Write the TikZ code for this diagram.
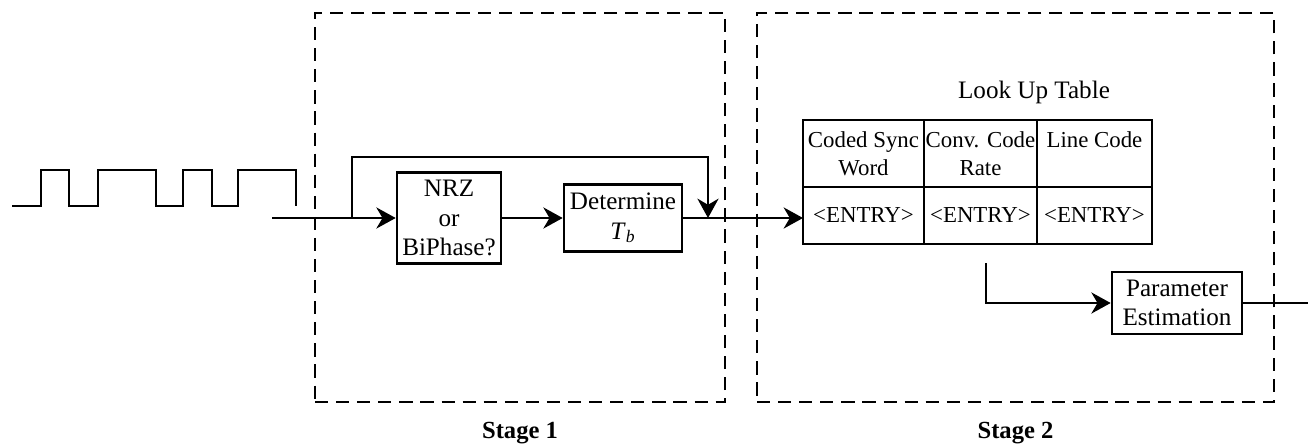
\documentclass[tikz,border=0pt]{standalone}
\usepackage{fontspec}
\setmainfont{Liberation Serif}
\usetikzlibrary{arrows.meta, positioning}

\begin{document}
\begin{tikzpicture}[x=0.02cm, y=-0.02cm, >={Stealth[length=11pt,width=12pt,inset=3.5pt]},
 line width=1.5pt, font=\fontsize{14.3}{16.8}\selectfont,
 block/.style={draw, align=center, inner sep=1pt},
 cell/.style={draw, align=center, inner sep=0pt, outer sep=0pt, font=\fontsize{13}{16}\selectfont},
 head/.style={cell, minimum height=1.34cm},
 entry/.style={cell, minimum height=1.14cm},
 stagebox/.style={draw, dash pattern=on 7.5pt off 4.5pt, minimum height=7.78cm},
 stagelbl/.style={font=\fontsize{14}{16.5}\selectfont\bfseries, inner sep=0pt}]
  \useasboundingbox (0,0) rectangle (1308,443);

  % stage frames
  \node[stagebox, minimum width=8.2cm] (st1) at (520,207.5) {};
  \node[stagebox, minimum width=10.34cm] (st2) at (1015.5,207.5) {};
  \node[stagelbl, below=0.36cm of st1] (st1lbl) {Stage 1};
  \node[stagelbl, below=0.36cm of st2] (st2lbl) {Stage 2};

  % input signal
  \draw (12,206) -| (41,170) -| (69,206) -| (98,170) -| (156,206) -| (183,170)
    -| (212,206) -| (238,170) -| (296,206);

  % stage 1
  \node[block, minimum width=2.08cm, minimum height=1.82cm] (nrz) at (449,218) {NRZ\\or\\BiPhase?};
  \node[block, minimum width=2.36cm, minimum height=1.34cm] (tb) at (623,218) {Determine\\\textit{T}\textsubscript{\textit{b}}};

  \coordinate (in) at (272,218);
  \coordinate (split) at (352,218);
  \coordinate (top) at (708,157);
  \coordinate (join) at (708,218);

  % stage 2: look up table
  \node[head, minimum width=2.42cm, anchor=north west] (h1) at (803,120) {Coded Sync\\Word};
  \node[head, minimum width=2.26cm, right=0pt of h1] (h2) {Conv. Code\\Rate};
  \node[head, minimum width=2.30cm, right=0pt of h2] (h3) {Line Code\\\mbox{}};
  \node[entry, minimum width=2.42cm, below=0pt of h1] (e1) {<ENTRY>};
  \node[entry, minimum width=2.26cm, below=0pt of h2] (e2) {<ENTRY>};
  \node[entry, minimum width=2.30cm, below=0pt of h3] (e3) {<ENTRY>};
  \node (lutlbl) at (1034,92) {Look Up Table};

  \node[block, minimum width=2.6cm, minimum height=1.24cm] (par) at (1177,303) {Parameter\\Estimation};
  \coordinate (tap) at (986,263);
  \coordinate (out) at (1308,303);

  % connections
  \draw[->] (in) -- (nrz);
  \draw[->] (split) |- (top) -- (join);
  \draw[->] (nrz) -- (tb);
  \draw[->] (tb) -- (tb -| e1.west);
  \draw[->] (tap) |- (par);
  \draw (par) -- (out);
\end{tikzpicture}
\end{document}
